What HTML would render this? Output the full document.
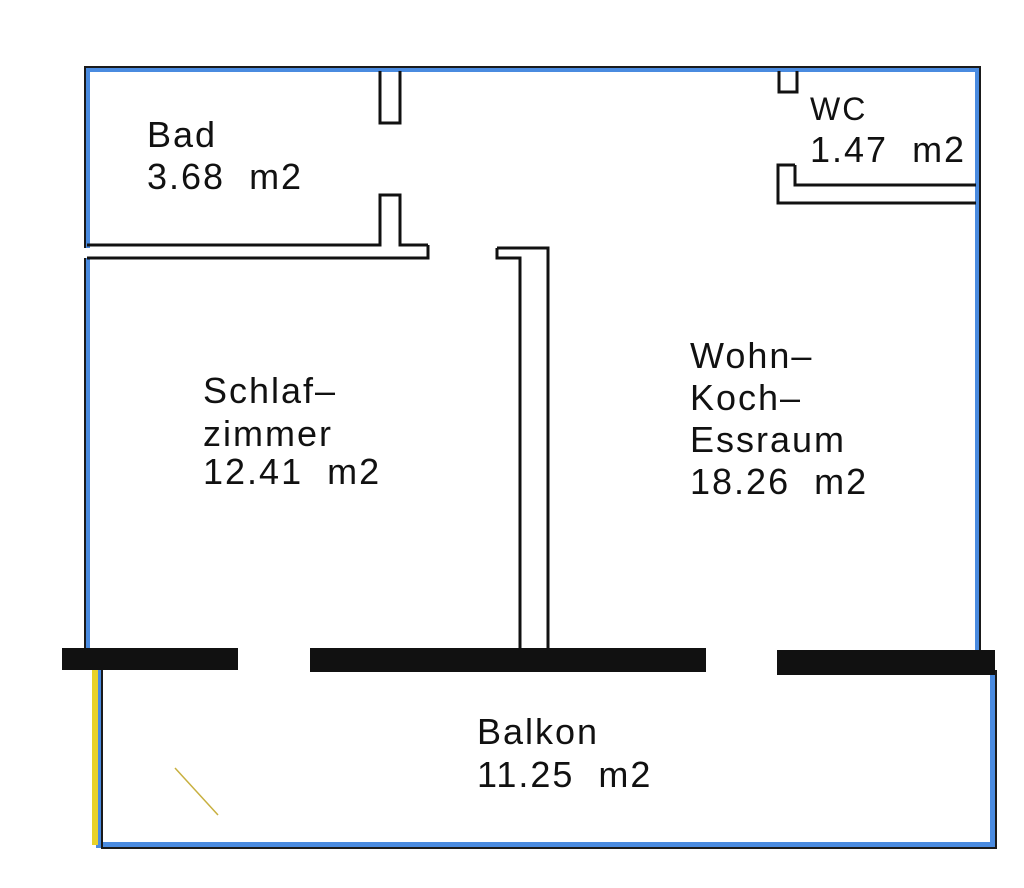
<!DOCTYPE html>
<html><head><meta charset="utf-8"><style>
html,body{margin:0;padding:0;background:#fff;}
svg{display:block;}
text{font-family:"Liberation Sans",sans-serif;font-size:36px;fill:#111;letter-spacing:2px;white-space:pre;}
</style></head><body>
<svg width="1024" height="888" viewBox="0 0 1024 888" xmlns="http://www.w3.org/2000/svg" xml:space="preserve">
<rect width="1024" height="888" fill="#fff"/>
<g fill="none" stroke-linejoin="miter">
<path d="M87 248 V69 H978 V650" stroke="#4a8be0" stroke-width="6"/>
<path d="M85 248 V67 H980 V652" stroke="#1a1a1a" stroke-width="2"/>
<path d="M87 258 V650" stroke="#4a8be0" stroke-width="6"/>
<path d="M85 258 V650" stroke="#1a1a1a" stroke-width="2"/>
<g stroke="#111" stroke-width="3">
<path d="M87 245 H380 V195 H400 V245 H428"/>
<path d="M428 245 V258 H87"/>
<path d="M380 71 V123 H400 V71"/>
<path d="M497 248 H548 V650"/>
<path d="M497 248 V258 H520 V650"/>
<path d="M779 71 V92 H797 V71"/>
<path d="M795 165 H778 V203 H976"/>
<path d="M795 165 V185 H976"/>
</g>
<path d="M99 670 V845 H993 V670" stroke="#4a8be0" stroke-width="6"/>
<path d="M102 670 V848 H996 V670" stroke="#1a1a1a" stroke-width="2"/>
<path d="M95 670 V845" stroke="#e8d22a" stroke-width="6"/>
<path d="M175 768 L218 815" stroke="#c8b040" stroke-width="1.5"/>
</g>
<rect x="62" y="648" width="176" height="22" fill="#111"/>
<rect x="310" y="648" width="396" height="24" fill="#111"/>
<rect x="777" y="650" width="218" height="25" fill="#111"/>
<text x="147" y="147">Bad</text>
<text x="147" y="189">3.68  m2</text>
<text x="810" y="120" style="font-size:32px">WC</text>
<text x="810" y="162">1.47  m2</text>
<text x="203" y="403">Schlaf–</text>
<text x="203" y="446">zimmer</text>
<text x="203" y="484">12.41  m2</text>
<text x="690" y="368">Wohn–</text>
<text x="690" y="410">Koch–</text>
<text x="690" y="452">Essraum</text>
<text x="690" y="494">18.26  m2</text>
<text x="477" y="744">Balkon</text>
<text x="477" y="787">11.25  m2</text>
</svg>
</body></html>
